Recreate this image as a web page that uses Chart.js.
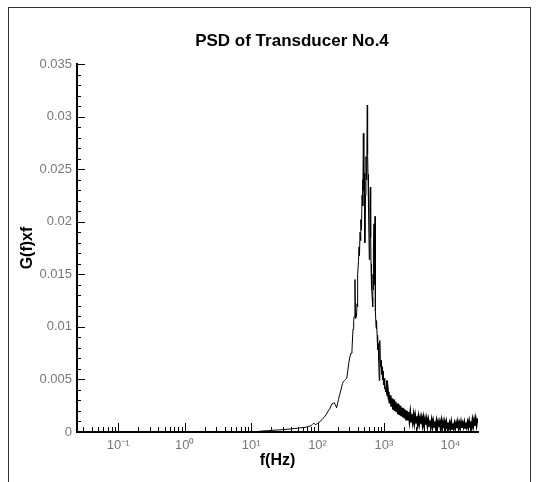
<!DOCTYPE html>
<html>
<head>
<meta charset="utf-8">
<script src="https://cdn.jsdelivr.net/npm/chart.js@4/dist/chart.umd.min.js"></script>
<style>
  body { margin: 0; background: #fff; }
  #wrap { position: relative; width: 544px; height: 482px; }
  #frame { position: absolute; left: 8px; top: 7px; width: 521px; height: 480px;
           border: 1px solid #333; border-bottom: none; }
  #myChart { position: absolute; left: 0; top: 0; }
</style>
</head>
<body>
<div id="wrap">
  <div id="frame"></div>
  <canvas id="myChart" width="544" height="482"></canvas>
</div>
<script>
const titulo = "PSD of Transducer No.4"

// x ticks (log scale) and y ticks
const xTickValues = [0.1, 1, 10, 100, 1000, 10000]
const xTickLabels = ["10⁻¹", "10⁰", "10¹", "10²", "10³", "10⁴"]
const yTickValues = [0, 0.005, 0.01, 0.015, 0.02, 0.025, 0.03, 0.035]
const yTickLabels = ["0", "0.005", "0.01", "0.015", "0.02", "0.025", "0.03", "0.035"]

// low frequency part (Hz / G(f)xf)
const freqLow = [0.0244, 0.1, 1, 5, 10, 13, 15, 18, 20, 23,
  26, 30, 35, 40, 45, 50, 56, 62, 68, 74,
  80, 84, 88, 92, 96, 100, 105, 110, 115, 121,
  128, 136, 145, 153, 160, 166, 172, 178, 185, 194,
  200, 207, 214, 221, 229, 237, 245, 255, 265, 275,
  285, 296]
const psdLow = [0, 0, 0, 0, 0, 0.00005, 0.0001, 0.00012, 0.00015, 0.00018,
  0.0002, 0.00022, 0.00026, 0.0003, 0.00033, 0.00036, 0.0004, 0.00042, 0.00047, 0.00052,
  0.0006, 0.00072, 0.00085, 0.0007, 0.00075, 0.0008, 0.0009, 0.001, 0.00115, 0.0013,
  0.00145, 0.0017, 0.002, 0.0022, 0.0025, 0.0027, 0.0027, 0.0028, 0.0026, 0.0023,
  0.0027, 0.0031, 0.0035, 0.0038, 0.0042, 0.0046, 0.0048, 0.0049, 0.005, 0.0051,
  0.0058, 0.0066]

// peak region
const freqPeak = [308, 319, 330, 342, 350, 356, 366, 372, 379, 386,
  393, 397, 406, 413, 421, 428, 436, 444, 451, 459,
  467, 478, 483, 489, 495, 500, 506, 512, 518, 527,
  536, 545, 553, 561, 567, 575, 581, 590, 601, 610,
  616, 623, 631, 638, 645, 653, 664, 676, 684, 690,
  696, 708, 714, 720, 733, 740, 746, 759, 768, 777,
  788, 799, 808, 820, 832, 849, 860, 871, 886, 902,
  918, 934, 950, 967, 984, 1001, 1018, 1036, 1055, 1073,
  1092, 1110, 1130, 1150, 1170, 1190, 1210, 1232]
const psdPeak = [0.0072, 0.0075, 0.0078, 0.0098, 0.0106, 0.011, 0.0145, 0.0108, 0.0113, 0.011,
  0.0122, 0.0119, 0.015, 0.0162, 0.0176, 0.0168, 0.019, 0.0182, 0.0202, 0.0192,
  0.0225, 0.024, 0.0215, 0.0284, 0.025, 0.023, 0.0246, 0.0215, 0.018, 0.0225,
  0.0262, 0.024, 0.027, 0.0311, 0.0265, 0.0245, 0.0233, 0.021, 0.0164, 0.02,
  0.0215, 0.0233, 0.0185, 0.016, 0.0145, 0.0138, 0.0128, 0.0119, 0.015, 0.0135,
  0.0175, 0.0198, 0.015, 0.014, 0.0205, 0.016, 0.0115, 0.01, 0.0098, 0.0106,
  0.0092, 0.0088, 0.0078, 0.0084, 0.0068, 0.0049, 0.007, 0.0087, 0.0062, 0.0068,
  0.0055, 0.0062, 0.005, 0.0058, 0.0045, 0.0051, 0.0041, 0.0046, 0.0038, 0.0042,
  0.0036, 0.0049, 0.0034, 0.0038, 0.0031, 0.0035, 0.0028, 0.0031]

// noisy tail
const freqTail = [1255, 1290, 1330, 1370, 1410, 1450, 1490, 1535, 1580, 1625,
  1670, 1720, 1770, 1820, 1875, 1930, 1985, 2040, 2100, 2160,
  2220, 2285, 2350, 2420, 2490, 2560, 2635, 2710, 2790, 2870,
  2950, 3035, 3120, 3210, 3300, 3400, 3500, 3600, 3700, 3810,
  3920, 4030, 4150, 4270, 4390, 4520, 4650, 4780, 4920, 5060,
  5210, 5360, 5510, 5670, 5830, 6000, 6170, 6350, 6530, 6720,
  6910, 7110, 7320, 7530, 7750, 7970, 8200, 8440, 8680, 8930,
  9190, 9450, 9720, 10000, 10290, 10590, 10890, 11200, 11520, 11850,
  12190, 12540, 12900, 13270, 13650, 14040, 14440, 14860, 15290, 15730,
  16180, 16640, 17120, 17610, 18120, 18640, 19170, 19720, 20290, 20870,
  21470, 22090, 22720, 23370, 24040, 24730, 25440, 25600]
const psdTail = [0.0035, 0.0024, 0.0032, 0.0022, 0.0031, 0.002, 0.0029, 0.0019, 0.0027, 0.0017,
  0.0026, 0.0016, 0.0025, 0.0015, 0.0023, 0.0014, 0.0022, 0.0013, 0.0021, 0.0012,
  0.002, 0.0011, 0.0019, 0.0011, 0.0018, 0.001, 0.0017, 0.001, 0.0016, 0.0009,
  0.0015, 0.0009, 0.0015, 0.0008, 0.0014, 0.0008, 0.0013, 0.0008, 0.0013, 0.0007,
  0.0013, 0.0007, 0.0012, 0.0007, 0.0012, 0.0006, 0.0011, 0.0006, 0.0011, 0.0006,
  0.0011, 0.0005, 0.001, 0.0005, 0.001, 0.0005, 0.001, 0.0004, 0.0009, 0.0005,
  0.0009, 0.0004, 0.001, 0.0004, 0.0009, 0.0004, 0.0009, 0.0004, 0.0009, 0.0004,
  0.0009, 0.0004, 0.0008, 0.0004, 0.0009, 0.0003, 0.0008, 0.0004, 0.0008, 0.0004,
  0.0008, 0.0004, 0.0009, 0.0004, 0.0008, 0.0004, 0.0009, 0.0004, 0.0008, 0.0005,
  0.0009, 0.0004, 0.0009, 0.0005, 0.0009, 0.0005, 0.001, 0.0005, 0.001, 0.0005,
  0.0011, 0.0006, 0.0011, 0.0006, 0.0012, 0.0007, 0.0013, 0.0009]

const freqs = freqLow.concat(freqPeak, freqTail)
const psd = psdLow.concat(psdPeak, psdTail)
const puntos = freqs.map((f, i) => ({ x: f, y: psd[i] }))

const fuente = "'Liberation Sans', Arial, sans-serif"

// ticks pointing into the plot + title text
const ticksAdentro = {
  id: "ticksAdentro",
  afterDraw(chart) {
    const ctx = chart.ctx
    const { left, bottom } = chart.chartArea
    const sx = chart.scales.x
    const sy = chart.scales.y
    ctx.save()
    ctx.strokeStyle = "#000"
    ctx.lineWidth = 1
    ctx.beginPath()
    for (let k = -2; k <= 4; k++) {
      for (let m = 1; m <= 9; m++) {
        const v = m * Math.pow(10, k)
        if (v < sx.min || v > sx.max) continue
        const px = Math.round(sx.getPixelForValue(v)) + 0.5
        const largo = m === 1 ? 9 : 5
        ctx.moveTo(px, bottom)
        ctx.lineTo(px, bottom - largo)
      }
    }
    for (let i = 0; i <= 35; i++) {
      const py = Math.round(sy.getPixelForValue(i / 1000)) + 0.5
      const largo = i % 5 === 0 ? 8 : 4
      ctx.moveTo(left, py)
      ctx.lineTo(left + largo, py)
    }
    ctx.stroke()
    ctx.fillStyle = "#000"
    ctx.font = "bold 17px " + fuente
    ctx.textAlign = "center"
    ctx.textBaseline = "middle"
    ctx.fillText(titulo, 292, 41)
    ctx.restore()
  }
}

const config = {
  type: "line",
  data: {
    datasets: [{
      label: "G(f)xf",
      data: puntos,
      borderColor: "#000",
      borderWidth: 1,
      pointRadius: 0,
      tension: 0,
      fill: false,
      // the noisy tail is drawn thicker, as in the original
      segment: {
        borderWidth: (c) => c.p0.parsed.x >= 1100 ? 2 : 1
      }
    }]
  },
  options: {
    responsive: false,
    animation: false,
    devicePixelRatio: 1,
    layout: { padding: { left: 0, top: 64, right: 66, bottom: 0 } },
    plugins: { legend: { display: false }, tooltip: { enabled: false } },
    scales: {
      x: {
        type: "logarithmic",
        min: 0.024,
        max: 26000,
        grid: { display: false, drawTicks: false },
        border: { display: true, color: "#000", width: 2 },
        afterBuildTicks: (scale) => { scale.ticks = xTickValues.map(v => ({ value: v })) },
        afterFit: (scale) => { scale.height = 50 },
        ticks: {
          autoSkip: false,
          maxRotation: 0,
          padding: 6,
          color: "#777",
          font: { family: fuente, size: 13 },
          callback: (v, i) => xTickLabels[i]
        },
        title: {
          display: true,
          text: "f(Hz)",
          color: "#000",
          font: { family: fuente, size: 16, weight: "bold" },
          padding: { top: 0, bottom: 12 }
        }
      },
      y: {
        type: "linear",
        min: 0,
        max: 0.035,
        grid: { display: false, drawTicks: false },
        border: { display: true, color: "#000", width: 2 },
        afterBuildTicks: (scale) => { scale.ticks = yTickValues.map(v => ({ value: v })) },
        afterFit: (scale) => { scale.width = 77 },
        ticks: {
          padding: 5,
          color: "#777",
          font: { family: fuente, size: 13 },
          callback: (v, i) => yTickLabels[i]
        },
        title: {
          display: true,
          text: "G(f)xf",
          color: "#000",
          font: { family: fuente, size: 16, weight: "bold" },
          padding: { top: 18, bottom: 0 }
        }
      }
    }
  },
  plugins: [ticksAdentro]
}

const myChart = new Chart(document.getElementById("myChart"), config)
</script>
</body>
</html>
